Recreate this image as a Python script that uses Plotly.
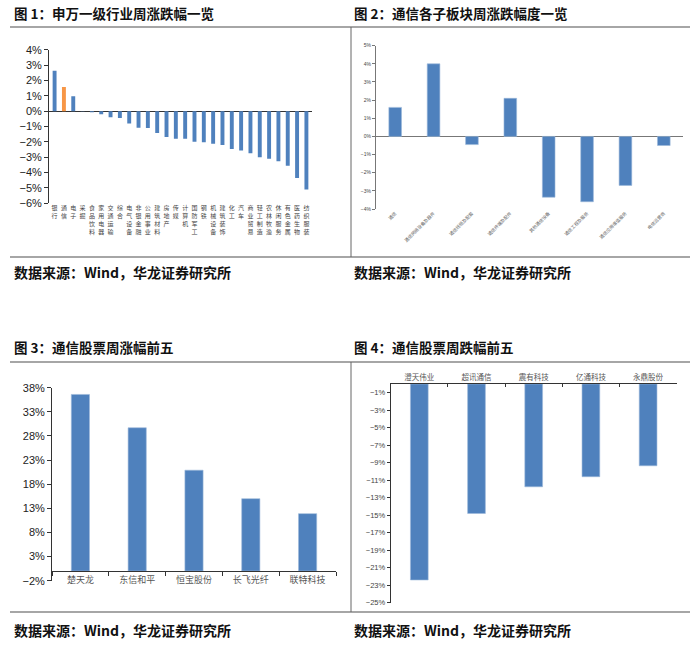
import plotly.graph_objects as go

W, H = 700, 647

# ---------------- data ----------------
ind_names = ['银行', '通信', '电子', '采掘', '食品饮料', '家用电器', '交通运输', '综合',
             '电气设备', '非银金融', '公用事业', '建筑材料', '房地产', '传媒', '计算机',
             '国防军工', '钢铁', '机械设备', '建筑装饰', '化工', '汽车', '商业贸易',
             '轻工制造', '农林牧渔', '休闲服务', '有色金属', '医药生物', '纺织服装']
ind_values = [2.63, 1.57, 0.97, -0.02, -0.08, -0.2, -0.4, -0.45,
              -0.8, -1.08, -1.1, -1.42, -1.68, -1.8, -1.8,
              -2.0, -2.03, -2.12, -2.2, -2.46, -2.56, -2.74,
              -3.0, -3.1, -3.26, -3.55, -4.35, -5.1]
highlight = '通信'

sub_names = ['通信', '通信网络设备及器件', '通信线缆及配套', '通信终端及配件',
             '其他通信设备', '通信工程及服务', '通信应用增值服务', '电信运营商']
sub_values = [1.6, 4.0, -0.45, 2.1, -3.35, -3.6, -2.7, -0.5]

gain_names = ['楚天龙', '东信和平', '恒宝股份', '长飞光纤', '联特科技']
gain_values = [36.6, 29.7, 20.9, 15.0, 11.9]

loss_names = ['澄天伟业', '超讯通信', '震有科技', '亿通科技', '永鼎股份']
loss_values = [-22.4, -14.8, -11.75, -10.6, -9.35]

titles = ['图 1：申万一级行业周涨跌幅一览', '图 2：通信各子板块周涨跌幅度一览',
          '图 3：通信股票周涨幅前五', '图 4：通信股票周跌幅前五']
source = '数据来源：Wind，华龙证券研究所'

# ---------------- styling ----------------
BLUE = '#4F81BD'
ORANGE = '#F79646'
CJK = 'Noto Sans CJK SC'
LAT = 'Liberation Sans'


def px(x):
    return x / W


def py(y):
    return 1 - y / H


fig = go.Figure()

fig.add_trace(go.Bar(
    x=ind_names, y=ind_values, width=0.42,
    marker=dict(color=[ORANGE if n == highlight else BLUE for n in ind_names], line=dict(width=0)),
    xaxis='x', yaxis='y', showlegend=False, hoverinfo='skip'))

fig.add_trace(go.Bar(
    x=sub_names, y=sub_values, width=0.33,
    marker=dict(color=BLUE, line=dict(color='#9cb8da', width=0.6)),
    xaxis='x2', yaxis='y2', showlegend=False, hoverinfo='skip'))

fig.add_trace(go.Bar(
    x=gain_names, y=gain_values, width=0.32,
    marker=dict(color=BLUE, line=dict(color='#9cb8da', width=0.6)),
    xaxis='x3', yaxis='y3', showlegend=False, hoverinfo='skip'))

fig.add_trace(go.Bar(
    x=loss_names, y=loss_values, width=0.31,
    marker=dict(color=BLUE, line=dict(color='#9cb8da', width=0.6)),
    xaxis='x4', yaxis='y4', showlegend=False, hoverinfo='skip'))

ind_ticktext = ['<br>'.join(list(n)) for n in ind_names]

y3_range = [-2, 38]
y3_dom = [py(580.7), py(387.7)]
x3_pos = y3_dom[0] + (0 - y3_range[0]) / (y3_range[1] - y3_range[0]) * (y3_dom[1] - y3_dom[0])

fig.update_layout(
    width=W, height=H,
    margin=dict(l=0, r=0, t=0, b=0, autoexpand=False),
    paper_bgcolor='white', plot_bgcolor='white',
    font=dict(family=CJK, color='#222'),
    hovermode=False,
    # ---- panel 1
    xaxis=dict(domain=[px(49), px(312)], anchor='y', showline=False, showgrid=False,
               tickmode='array', tickvals=ind_names, ticktext=ind_ticktext,
               tickangle=0, tickfont=dict(family=CJK, size=6, color='#444'), ticks='',
               range=[-0.6, len(ind_names) - 0.4]),
    yaxis=dict(domain=[py(203.3), py(49.7)], anchor='x', range=[-6, 4], dtick=1,
               ticksuffix='%', showgrid=False, showline=True, linecolor='#333', linewidth=1,
               ticks='outside', ticklen=4, tickcolor='#333',
               zeroline=True, zerolinecolor='#333', zerolinewidth=1,
               tickfont=dict(family=LAT, size=11, color='#222')),
    # ---- panel 2
    xaxis2=dict(domain=[px(376), px(683)], anchor='y2', showline=False, showgrid=False,
                tickangle=-45, tickfont=dict(family=CJK, size=4.5, color='#666'), ticks='',
                range=[-0.5, len(sub_names) - 0.5]),
    yaxis2=dict(domain=[py(209), py(45.7)], anchor='x2', range=[-4, 5], dtick=1,
                ticksuffix='%', showgrid=False, showline=True, linecolor='#777', linewidth=1,
                ticks='outside', ticklen=3, tickcolor='#777',
                zeroline=True, zerolinecolor='#777', zerolinewidth=1,
                tickfont=dict(family=LAT, size=5, color='#444')),
    # ---- panel 3
    xaxis3=dict(domain=[px(52), px(336)], anchor='free', position=x3_pos,
                showline=True, linecolor='#333', linewidth=1, showgrid=False,
                ticks='outside', tickson='boundaries', ticklen=4, tickcolor='#333',
                tickfont=dict(family=CJK, size=9, color='#555'),
                range=[-0.5, len(gain_names) - 0.5]),
    yaxis3=dict(domain=y3_dom, anchor='x3', range=y3_range, tick0=-2, dtick=5,
                ticksuffix='%', showgrid=False, showline=True, linecolor='#333', linewidth=1,
                ticks='outside', ticklen=4, tickcolor='#333', zeroline=False,
                tickfont=dict(family=LAT, size=11, color='#222')),
    # ---- panel 4
    xaxis4=dict(domain=[px(390.7), px(676.7)], anchor='y4', side='top',
                showline=True, linecolor='#333', linewidth=1, showgrid=False,
                ticks='inside', tickson='boundaries', ticklen=3, tickcolor='#333',
                tickfont=dict(family=CJK, size=7.5, color='#555'),
                range=[-0.5, len(loss_names) - 0.5]),
    yaxis4=dict(domain=[py(602.7), py(384)], anchor='x4', range=[-25, 0], tick0=-1, dtick=2,
                ticksuffix='%', showgrid=False, showline=True, linecolor='#333', linewidth=1,
                ticks='outside', ticklen=3, tickcolor='#333', zeroline=False,
                tickfont=dict(family=LAT, size=7.5, color='#444')),
)

title_pos = [(12, 13), (352, 13), (12, 347), (352, 347)]
for t, (x, y) in zip(titles, title_pos):
    fig.add_annotation(text='<b>' + t + '</b>', x=px(x), y=py(y), xref='paper', yref='paper',
                       xanchor='left', yanchor='middle', showarrow=False,
                       font=dict(family=CJK, size=13.5, color='#111'))

src_pos = [(12, 272), (352, 272), (12, 630), (352, 630)]
for (x, y) in src_pos:
    fig.add_annotation(text='<b>' + source + '</b>', x=px(x), y=py(y), xref='paper', yref='paper',
                       xanchor='left', yanchor='middle', showarrow=False,
                       font=dict(family=CJK, size=14, color='#111'))

rules = [
    (10, 27, 690, 27, '#888', 1.5),
    (10, 257, 690, 257, '#888', 1.5),
    (351, 27, 351, 257, '#666', 1),
    (10, 362, 690, 362, '#888', 1.5),
    (10, 612, 690, 612, '#888', 1.5),
    (351, 362, 351, 612, '#666', 1),
]
for x0, y0, x1, y1, c, w in rules:
    fig.add_shape(type='line', xref='paper', yref='paper',
                  x0=px(x0), y0=py(y0), x1=px(x1), y1=py(y1),
                  line=dict(color=c, width=w))

# remove the default page margin so the 700x647 figure fills the window exactly
fig.write_html('out.html', config={'displayModeBar': False, 'staticPlot': True},
               post_script="document.body.style.margin='0';")
